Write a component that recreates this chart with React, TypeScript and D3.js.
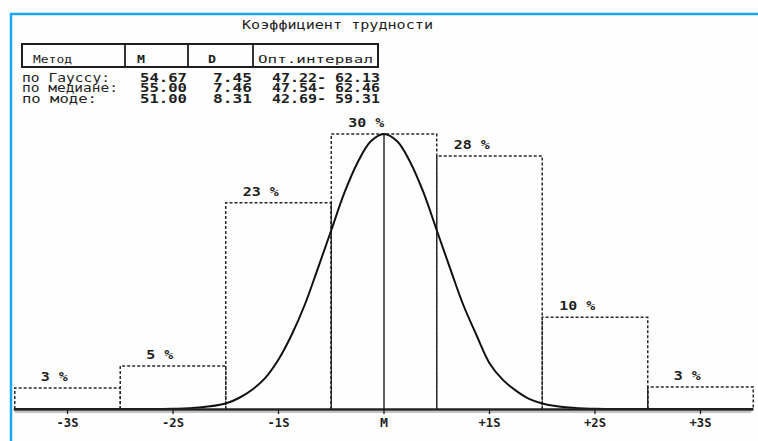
import React from "react";
import * as d3 from "d3";

// ---- data ----
const binCenters = [-3, -2, -1, 0, 1, 2, 3]; // in S units
const binValues = [2.3, 4.7, 22.5, 30, 27.6, 10.0, 2.4]; // percent (bar heights)
const binLabels = ["3 %", "5 %", "23 %", "30 %", "28 %", "10 %", "3 %"];
const tickPos = [-3, -2, -1, 0, 1, 2, 3];
const tickLabels = ["-3S", "-2S", "-1S", "M", "+1S", "+2S", "+3S"];
const curveXs = [-3.5, -3, -2.5, -2, -1.75, -1.5, -1.375, -1.25, -1.125, -1, -0.875, -0.75, -0.625, -0.5, -0.375, -0.25, -0.125, 0, 0.125, 0.25, 0.375, 0.5, 0.625, 0.75, 0.875, 1, 1.125, 1.25, 1.375, 1.5, 1.75, 2, 2.5, 3, 3.5];
const curveYs = [0, 0, 0, 0.03, 0.16, 0.6, 1.2, 2.1, 3.4, 5.4, 8.1, 11.4, 15.4, 19.5, 23.6, 26.9, 29.2, 30, 29.2, 26.9, 23.6, 19.5, 15.4, 11.4, 8.1, 5.0, 3.2, 2.0, 1.1, 0.6, 0.16, 0.03, 0, 0, 0];
const title = "Коэффициент трудности";
const headers = ["Метод", "M", "D", "Опт.интервал"];
const methods = ["по Гауссу:", "по медиане:", "по моде:"];
const mValues = ["54.67", "55.00", "51.00"];
const dValues = ["7.45", "7.46", "8.31"];
const intervals = ["47.22- 62.13", "47.54- 62.46", "42.69- 59.31"];

const W = 758;
const H = 441;
const FONT = "'DejaVu Sans Mono', 'Liberation Mono', monospace";
const INK = "#1e1e1e";

function T({ x, y, w, children, bold = false, size = 12, anchor = "start" }: any) {
  return (
    <text
      x={x}
      y={y}
      textLength={w}
      lengthAdjust="spacingAndGlyphs"
      textAnchor={anchor}
      fontFamily={FONT}
      fontSize={size}
      fontWeight={bold ? "bold" : "normal"}
      fill={INK}
      xmlSpace="preserve"
    >
      {children}
    </text>
  );
}

export default function App() {
  const x = d3.scaleLinear().domain([0, 1]).range([384, 489.5]);
  const y = d3.scaleLinear().domain([0, 30]).range([409, 134]);
  const line = d3
    .line<number>()
    .x((_, i) => x(curveXs[i]))
    .y((d) => y(d))
    .curve(d3.curveCatmullRom.alpha(0.5));

  const dotted = { stroke: "#2a2a2a", strokeWidth: 1.5, strokeDasharray: "3,2", fill: "none" };
  const base = y(0);

  return (
    <svg
      width={W}
      height={H}
      style={{ position: "absolute", left: 0, top: 0, background: "#fff" }}
    >
      <rect x={0} y={0} width={W} height={H} fill="#fefefe" />
      {/* blue frame */}
      <line x1={10} x2={W} y1={14} y2={14} stroke="#1aa7ee" strokeWidth={2.5} />
      <line x1={11} x2={11} y1={13} y2={H} stroke="#1aa7ee" strokeWidth={2.5} />

      {/* title */}
      <T x={242} y={29} w={191} size={12}>{title}</T>

      {/* table header box */}
      <rect x={22} y={44} width={356} height={23} fill="none" stroke={INK} strokeWidth={2} />
      {[125, 188, 253].map((sx) => (
        <line key={sx} x1={sx} x2={sx} y1={44} y2={67} stroke={INK} strokeWidth={1.8} />
      ))}
      <T x={33} y={63} w={39} size={11}>{headers[0]}</T>
      <T x={141} y={63} w={8} size={11} bold anchor="middle">{headers[1]}</T>
      <T x={212} y={63} w={8} size={11} bold anchor="middle">{headers[2]}</T>
      <T x={258} y={63} w={115} size={11}>{headers[3]}</T>

      {methods.map((m, i) => {
        const by = 82 + i * 10.3;
        const mw = [88, 96, 75][i];
        return (
          <g key={m}>
            <T x={22} y={by} w={mw} size={11.5}>{m}</T>
            <T x={187} y={by} w={47} size={12} bold anchor="end">{mValues[i]}</T>
            <T x={252} y={by} w={39} size={12} bold anchor="end">{dValues[i]}</T>
            <T x={380} y={by} w={108} size={12} bold anchor="end">{intervals[i]}</T>
          </g>
        );
      })}

      {/* bars */}
      {binCenters.map((c, i) => {
        const x0 = x(c - 0.5);
        const x1 = x(c + 0.5);
        const yt = y(binValues[i]);
        const lab = binLabels[i].length < 4 ? " " + binLabels[i] : binLabels[i];
        return (
          <g key={c}>
            <path d={`M${x0},${base}V${yt}H${x1}V${base}`} style={dotted} />
            <T x={x0 + 17} y={yt - 7} w={36} size={12} bold>{lab}</T>
          </g>
        );
      })}
      {/* solid edge markers */}
      <line x1={x(-0.5)} x2={x(-0.5)} y1={base} y2={y(binValues[2])} stroke={INK} strokeWidth={1.3} />
      <line x1={x(2.5)} x2={x(2.5)} y1={base} y2={y(binValues[6])} stroke={INK} strokeWidth={1.3} />
      {/* mean line */}
      <line x1={x(0)} x2={x(0)} y1={base} y2={y(30)} stroke={INK} strokeWidth={1.4} />

      {/* curve */}
      <path d={line(curveYs) || ""} fill="none" stroke="#111" strokeWidth={2} />

      {/* axis */}
      <line x1={x(-3.5) - 1} x2={x(3.5)} y1={base + 0.5} y2={base + 0.5} stroke="#222" strokeWidth={2.6} />
      <line x1={x(-3.5)} x2={x(3.5) - 2} y1={base + 3} y2={base + 3} stroke="#888" strokeWidth={1} />
      {tickPos.map((t, i) => (
        <g key={t}>
          <line x1={x(t)} x2={x(t)} y1={base} y2={base + 5} stroke={INK} strokeWidth={1.3} />
          <T x={x(t)} y={427} w={tickLabels[i].length === 1 ? 8 : 22} size={11.5} bold anchor="middle">
            {tickLabels[i]}
          </T>
        </g>
      ))}
    </svg>
  );
}
